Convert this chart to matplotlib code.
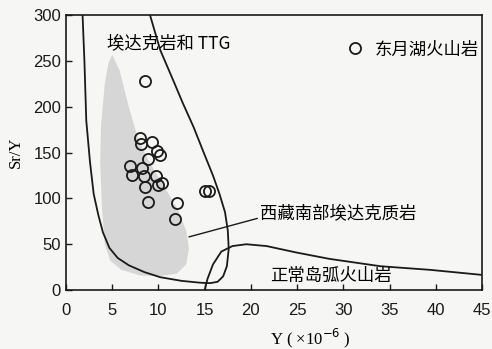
import matplotlib
matplotlib.use('Agg')
import matplotlib.pyplot as plt
import numpy as np

plt.rcParams['font.family'] = ['Noto Sans CJK SC', 'DejaVu Sans']

# sample points (Y ppm, Sr/Y)
y_ppm = [8.5, 8.0, 8.1, 9.3, 9.9, 10.2, 8.9, 6.9, 7.1, 8.2, 8.4, 9.7,
         8.6, 10.0, 10.4, 8.9, 12.0, 11.8, 15.0, 15.5]
sr_y = [228, 166, 160, 162, 152, 148, 143, 135, 126, 133, 124, 124,
        113, 115, 117, 96, 95, 78, 108, 108]

# adakite + TTG field boundary
adk_x = [1.8, 2.0, 2.2, 2.6, 3.0, 3.5, 4.0, 4.7, 5.6, 6.8, 8.5, 10.2, 12.5,
         14.5, 15.6, 16.4, 17.0, 17.4, 17.6, 17.5, 17.2, 16.6, 15.9, 14.9,
         13.8, 12.6, 11.6, 10.2, 9.1]
adk_y = [300, 250, 185, 140, 105, 82, 63, 46, 35, 27, 19.5, 14, 10,
         8, 7.5, 9, 15, 26, 45, 65, 85, 105, 125, 150,
         178, 205, 229, 262, 300]

# normal island arc field
arc_x = [15.0, 15.3, 15.9, 16.8, 18.0, 19.5, 21.7, 24.9, 28.5, 34.0, 39.4, 45.0]
arc_y = [0, 12, 28, 42, 48, 50, 48, 41, 34, 26, 22, 16.5]

# southern Tibet adakites (grey field)
tib_x = [5.0, 5.8, 6.8, 7.8, 9.0, 10.5, 12.0, 13.0, 13.3, 13.0, 12.0, 10.0,
         8.0, 6.0, 4.8, 4.2, 3.9, 3.7, 3.8, 4.2, 4.6]
tib_y = [257, 240, 200, 165, 140, 115, 90, 65, 45, 28, 18, 15,
         16, 22, 32, 50, 90, 140, 180, 225, 248]

fig = plt.figure(figsize=(4.92, 3.49), dpi=100)
fig.patch.set_facecolor('#f6f6f4')
ax = fig.add_axes([0.134, 0.169, 0.846, 0.787])
ax.set_facecolor('#f6f6f4')

ax.fill(tib_x, tib_y, color='#d6d6d6', lw=0, zorder=1)
ax.plot(adk_x, adk_y, color='#1a1a1a', lw=1.3, zorder=2)
ax.plot(arc_x, arc_y, color='#1a1a1a', lw=1.3, zorder=2)

ax.plot(y_ppm, sr_y, 'o', ms=8, mfc='none', mec='#1a1a1a', mew=1.3,
        zorder=3, label='东月湖火山岩')

ax.text(4.4, 269, '埃达克岩和 TTG', fontsize=12.5, va='center', ha='left')
ax.text(22.1, 15, '正常岛弧火山岩', fontsize=12.5, va='center', ha='left')
ax.annotate('西藏南部埃达克质岩', xy=(13.3, 58), xytext=(21.0, 83),
            fontsize=12.5, va='center', ha='left',
            arrowprops=dict(arrowstyle='-', color='#1a1a1a', lw=1,
                            shrinkA=0, shrinkB=0, relpos=(0, 0.3)))

ax.legend(loc='center right', bbox_to_anchor=(1.0, 0.876), frameon=False,
          fontsize=12.5, borderaxespad=0, borderpad=0.2,
          handlelength=1.0, handletextpad=0.6)

ax.set_xlim(0, 45)
ax.set_ylim(0, 300)
ax.set_xticks(np.arange(0, 46, 5))
ax.set_yticks(np.arange(0, 301, 50))
ax.tick_params(direction='in', length=4, width=1, colors='#1a1a1a',
               labelsize=12)
ax.tick_params(axis='x', pad=9)
for lab in ax.get_xticklabels() + ax.get_yticklabels():
    lab.set_family('Liberation Sans')
for s in ax.spines.values():
    s.set_linewidth(1.2)
    s.set_color('#1a1a1a')

ax.set_ylabel('Sr/Y', family='Liberation Serif', fontsize=12)
ax.yaxis.set_label_coords(-0.10, 0.5)
ax.set_xlabel('Y ( ×10$^{-6}$ )', family=['Liberation Serif', 'DejaVu Sans'],
              fontsize=12)
ax.xaxis.set_label_coords(0.587, -0.135)

fig.savefig('out.png', dpi=100, facecolor=fig.get_facecolor())
